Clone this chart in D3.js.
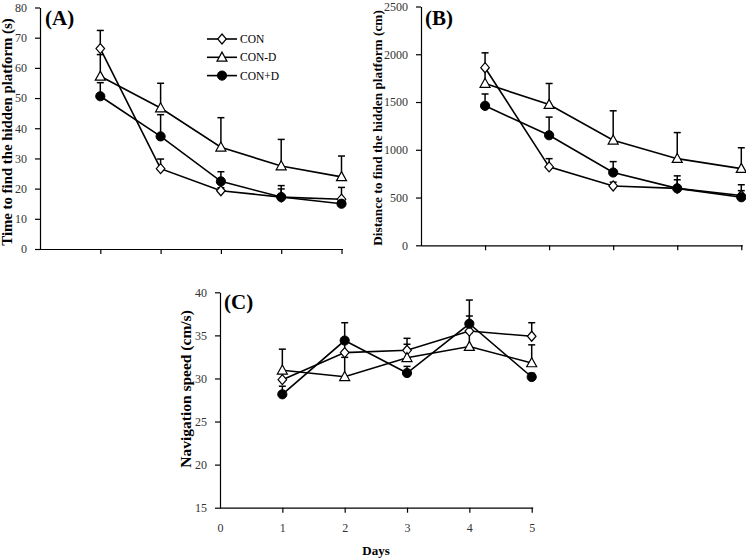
<!DOCTYPE html>
<html>
<head>
<meta charset="utf-8">
<script src="https://cdn.jsdelivr.net/npm/d3@7"></script>
<style>
  html, body { margin: 0; padding: 0; background: #fff; }
  svg { display: block; }
  text { font-family: "Liberation Serif", "Times New Roman", serif; }
</style>
</head>
<body>
<svg id="chart" width="746" height="558"></svg>
<script>
// ---------------- DATA ----------------
const days = [1, 2, 3, 4, 5];
const seriesNames = ["CON", "CON-D", "CON+D"];

// (A) Time to find the hidden platform (s)
const timeCON      = [66.4, 26.6, 19.3, 17.2, 16.5];
const timeCONerr   = [6.0, 3.2, 1.0, 2.7, 3.9];
const timeCOND     = [57.2, 46.7, 33.7, 27.5, 23.9];
const timeCONDerr  = [7.2, 8.2, 9.8, 8.8, 6.9];
const timeCONpD    = [50.6, 37.3, 22.4, 17.2, 15.0];
const timeCONpDerr = [4.5, 7.2, 3.2, 3.8, 1.5];

// (B) Distance to find the hidden platform (cm)
const distCON      = [1859, 821, 621, 596, 521];
const distCONerr   = [156, 86, 40, 90, 51];
const distCOND     = [1694, 1473, 1100, 907, 803];
const distCONDerr  = [156, 221, 308, 273, 218];
const distCONpD    = [1460, 1152, 762, 596, 503];
const distCONpDerr = [124, 190, 114, 131, 131];

// (C) Navigation speed (cm/s)
const speedCON      = [29.86, 33.0, 33.27, 35.5, 34.9];
const speedCONerr   = [0.74, 1.2, 1.39, 1.75, 1.57];
const speedCOND     = [30.95, 30.2, 32.4, 33.7, 31.8];
const speedCONDerr  = [2.45, 2.25, 1.57, 1.6, 2.1];
const speedCONpD    = [28.16, 34.4, 30.63, 36.35, 30.17];
const speedCONpDerr = [0.94, 2.07, 0.77, 2.75, 0.43];

const ticksA = [0, 10, 20, 30, 40, 50, 60, 70, 80];
const ticksB = [0, 500, 1000, 1500, 2000, 2500];
const ticksC = [15, 20, 25, 30, 35, 40];
const xTicksC = [0, 1, 2, 3, 4, 5];

const titleA = "Time to find the hidden platform (s)";
const titleB = "Distance to find the hidden platform (cm)";
const titleC = "Navigation speed (cm/s)";
const xTitle = "Days";

// ---------------- DRAWING ----------------
const svg = d3.select("#chart");
const markerTypes = ["diamond", "triangle", "circle"];

function drawMarker(g, type, x, y) {
  if (type === "circle") {
    g.append("circle").attr("cx", x).attr("cy", y).attr("r", 4.6)
      .attr("fill", "#000").attr("stroke", "#000").attr("stroke-width", 1);
  } else if (type === "diamond") {
    g.append("path")
      .attr("d", `M${x},${y - 5}L${x + 4.3},${y}L${x},${y + 5}L${x - 4.3},${y}Z`)
      .attr("fill", "#fff").attr("stroke", "#000").attr("stroke-width", 1.2);
  } else {
    g.append("path")
      .attr("d", `M${x},${y - 5.2}L${x + 5},${y + 3.8}L${x - 5},${y + 3.8}Z`)
      .attr("fill", "#fff").attr("stroke", "#000").attr("stroke-width", 1.2);
  }
}

function panel(opts) {
  const g = svg.append("g");
  const x = d3.scaleLinear().domain([0, 5]).range(opts.xRange);
  const y = d3.scaleLinear().domain(opts.yDomain).range(opts.yRange);

  // Y axis
  const ya = g.append("g").attr("transform", `translate(${opts.xRange[0]},0)`)
    .call(d3.axisLeft(y).tickValues(opts.yTicks).tickSize(5).tickSizeOuter(0)
      .tickPadding(8).tickFormat(d3.format("d")));
  ya.selectAll("path, line").attr("stroke", "#000").attr("stroke-width", 1.2);
  ya.selectAll("text").attr("fill", "#333").attr("font-size", 12)
    .style("font-family", '"Liberation Serif", serif');

  // X axis
  const xa = g.append("g").attr("transform", `translate(0,${opts.yRange[0]})`)
    .call(d3.axisBottom(x).tickValues(opts.xTicks).tickSize(5).tickSizeOuter(0)
      .tickPadding(11).tickFormat(opts.xLabels ? d3.format("d") : () => ""));
  xa.select("path").attr("d", `M${opts.xRange[0]},0.5H${opts.xRange[1] + 1.5}`);
  xa.selectAll("path, line").attr("stroke", "#000").attr("stroke-width", 1.2);
  xa.selectAll(".tick").filter(d => d === 0).select("line").remove();
  xa.selectAll("text").attr("fill", "#333").attr("font-size", 12)
    .style("font-family", '"Liberation Serif", serif');

  const series = opts.series;
  // error bars
  const eb = g.append("g");
  series.forEach(s => {
    days.forEach((d, i) => {
      const px = x(d), y0 = y(s.vals[i]), y1 = y(s.vals[i] + s.err[i]);
      eb.append("line").attr("x1", px).attr("x2", px).attr("y1", y0).attr("y2", y1)
        .attr("stroke", "#000").attr("stroke-width", 1.5);
      eb.append("line").attr("x1", px - 3.5).attr("x2", px + 3.5).attr("y1", y1).attr("y2", y1)
        .attr("stroke", "#000").attr("stroke-width", 1.5);
    });
  });
  // lines
  const line = d3.line().x((d, i) => x(days[i])).y(d => y(d));
  series.forEach(s => {
    g.append("path").datum(s.vals).attr("d", line)
      .attr("fill", "none").attr("stroke", "#000").attr("stroke-width", 1.6);
  });
  // markers
  series.forEach((s, k) => {
    const mg = g.append("g");
    s.vals.forEach((v, i) => drawMarker(mg, markerTypes[k], x(days[i]), y(v)));
  });

  // Y title
  g.append("text")
    .attr("transform", `translate(${opts.titleX},${opts.titleY}) rotate(-90)`)
    .attr("text-anchor", "middle").attr("font-weight", "bold").attr("font-size", opts.titleSize)
    .attr("fill", "#000").text(opts.title);

  // Panel label
  g.append("text").attr("x", opts.labelX).attr("y", opts.labelY)
    .attr("font-weight", "bold").attr("font-size", 21).attr("fill", "#000").text(opts.label);

  return { g, x, y };
}

panel({
  xRange: [40, 341.5], yDomain: [0, 80], yRange: [249, 7.5], yTicks: ticksA,
  xTicks: days, xLabels: false,
  series: [
    { vals: timeCON, err: timeCONerr },
    { vals: timeCOND, err: timeCONDerr },
    { vals: timeCONpD, err: timeCONpDerr }
  ],
  title: titleA, titleX: 12, titleY: 132, titleSize: 14.8,
  label: "(A)", labelX: 45, labelY: 25
});

panel({
  xRange: [421, 741.3], yDomain: [0, 2500], yRange: [245.3, 6.5], yTicks: ticksB,
  xTicks: days, xLabels: false,
  series: [
    { vals: distCON, err: distCONerr },
    { vals: distCOND, err: distCONDerr },
    { vals: distCONpD, err: distCONpDerr }
  ],
  title: titleB, titleX: 382, titleY: 128, titleSize: 13.3,
  label: "(B)", labelX: 425, labelY: 25
});

panel({
  xRange: [220, 531.7], yDomain: [15, 40], yRange: [507.7, 292.3], yTicks: ticksC,
  xTicks: xTicksC, xLabels: true,
  series: [
    { vals: speedCON, err: speedCONerr },
    { vals: speedCOND, err: speedCONDerr },
    { vals: speedCONpD, err: speedCONpDerr }
  ],
  title: titleC, titleX: 191, titleY: 389, titleSize: 15.5,
  label: "(C)", labelX: 224, labelY: 309
});

// X title for panel C
svg.append("text").attr("x", 376).attr("y", 555)
  .attr("text-anchor", "middle").attr("font-weight", "bold").attr("font-size", 13)
  .attr("fill", "#000").text(xTitle);

// Legend (panel A)
const lg = svg.append("g");
seriesNames.forEach((name, k) => {
  const ly = 39 + k * 18.3;
  lg.append("line").attr("x1", 207).attr("x2", 237).attr("y1", ly).attr("y2", ly)
    .attr("stroke", "#000").attr("stroke-width", 1.6);
  drawMarker(lg, markerTypes[k], 222, ly);
  lg.append("text").attr("x", 240).attr("y", ly).attr("dy", "0.35em")
    .attr("font-size", 11.5).attr("fill", "#000").text(name);
});
</script>
</body>
</html>
